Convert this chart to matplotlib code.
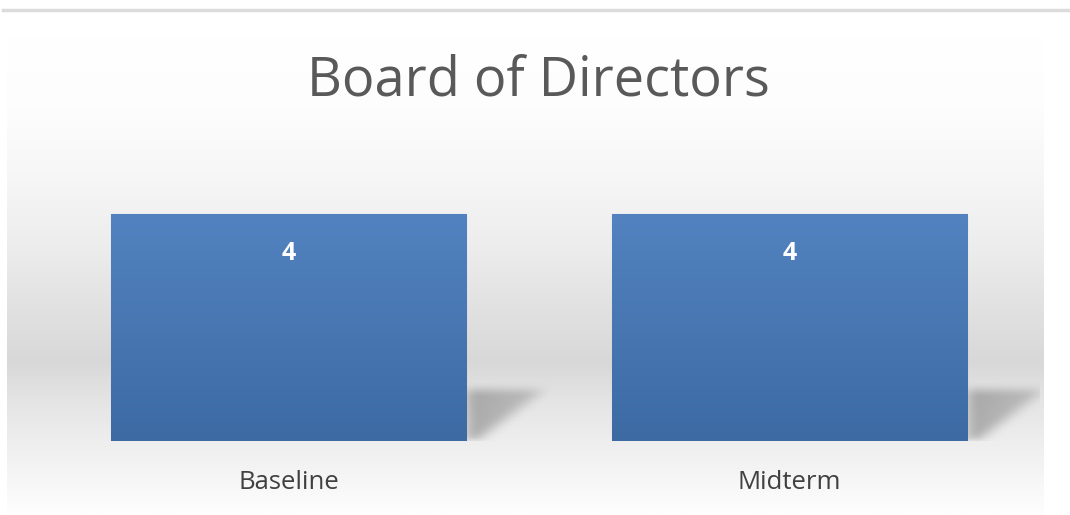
import numpy as np
import matplotlib
matplotlib.use('Agg')
import matplotlib.pyplot as plt
from matplotlib.colors import LinearSegmentedColormap
from matplotlib.lines import Line2D

categories = ['Baseline', 'Midterm']
values = [4, 4]
title = 'Board of Directors'

fig = plt.figure(figsize=(10.7, 5.15), dpi=100)

# background: thin rule at top, then grey band gradient
bg = fig.add_axes([0.0065, 0, 0.969, 0.93], zorder=0)
bg.axis('off')
stops = [(0.0, '#ffffff'), (0.15, '#fdfdfd'), (0.3, '#f6f6f6'), (0.45, '#ececec'),
         (0.55, '#e3e3e3'), (0.68, '#d8d8d8'), (0.76, '#e4e4e4'), (0.85, '#eeeeee'),
         (1.0, '#fefefe')]
bg_cmap = LinearSegmentedColormap.from_list('bg', stops)
grad = np.linspace(0, 1, 256).reshape(-1, 1)
bg.imshow(grad, aspect='auto', cmap=bg_cmap, extent=[0, 1, 0, 1], origin='upper')
bg.set_xlim(0, 1)
bg.set_ylim(0, 1)
fig.add_artist(Line2D([0.003, 1.0], [0.98, 0.98], color='#dcdcdc', lw=2.5))

ax = fig.add_axes([38 / 1070, 74 / 515, 1002 / 1070, 284 / 515], zorder=1)
ax.patch.set_alpha(0)
x = np.arange(len(categories))
width = 0.709
bars = ax.bar(x, values, width, color='#4a7ebb', edgecolor='#86a6d4', linewidth=0.8, zorder=3)


def blur(a, nr, nc):
    kr = np.ones(nr) / nr
    kc = np.ones(nc) / nc
    a = np.apply_along_axis(lambda r: np.convolve(r, kr, mode='same'), 0, a)
    a = np.apply_along_axis(lambda r: np.convolve(r, kc, mode='same'), 1, a)
    return a


# soft skewed shadow shape (offsets in data units from the bar's lower right corner)
su = np.linspace(-0.02, 0.24, 130)
sv = np.linspace(0, 1.2, 70)
U, V = np.meshgrid(su, sv)
mask = ((U >= 0) & (V <= 0.9) & (U <= 0.02 + V * 0.15)).astype(float)
mask *= 1.0 - 0.4 * (U / 0.16)
shadow = blur(blur(mask, 11, 19), 7, 11)
shadow[U < 0] = 0
rgba = np.zeros(shadow.shape + (4,))
rgba[..., :3] = 0.42
rgba[..., 3] = 0.5 * shadow

bar_cmap = LinearSegmentedColormap.from_list('bar', ['#5283c0', '#3d6aa3'])
for b in bars:
    x0, y0 = b.get_x(), b.get_y()
    w, h = b.get_width(), b.get_height()
    im = ax.imshow(grad, aspect='auto', cmap=bar_cmap, extent=[x0, x0 + w, y0, y0 + h],
                   origin='upper', zorder=3.5)
    im.set_clip_path(b)
    ax.imshow(rgba, aspect='auto', origin='lower', zorder=2, interpolation='bilinear',
              extent=[x0 + w + su[0], x0 + w + su[-1], y0, y0 + sv[-1]])
    ax.text(x0 + w / 2, y0 + h - 0.7, str(int(h)), ha='center', va='center',
            color='white', fontsize=18, fontweight='bold', zorder=4, family='Open Sans')

ax.set_xlim(-0.5, len(categories) - 0.5)
ax.set_ylim(0, 5)
ax.set_xticks(x)
ax.set_xticklabels(categories, fontsize=18.5, color='#404040', family='Open Sans')
ax.tick_params(axis='x', length=0, pad=21)
ax.set_yticks([])
for sp in ax.spines.values():
    sp.set_visible(False)

fig.text(0.503, 0.843, title, ha='center', va='center', fontsize=39, color='#595959',
         family='Open Sans')

fig.savefig('out.png', dpi=100)
